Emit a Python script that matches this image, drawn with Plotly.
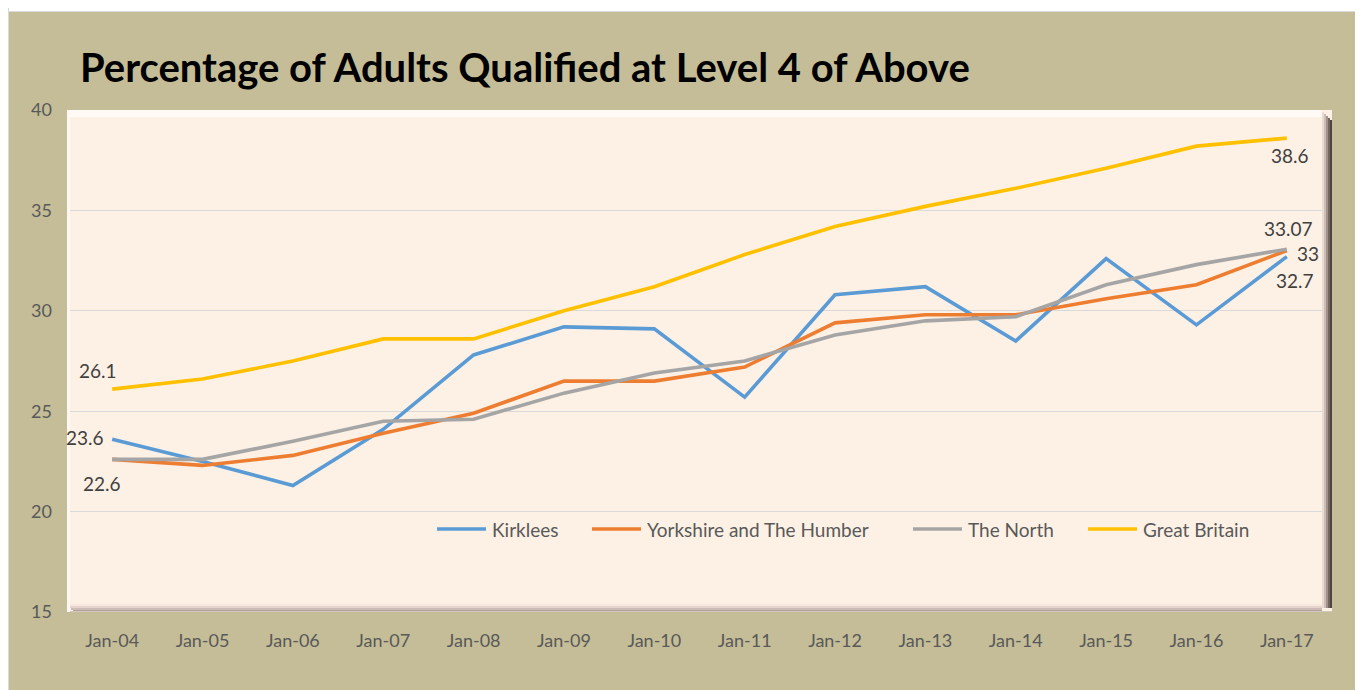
import plotly.graph_objects as go

# ---------------- data ----------------
categories = ["Jan-04", "Jan-05", "Jan-06", "Jan-07", "Jan-08", "Jan-09", "Jan-10",
              "Jan-11", "Jan-12", "Jan-13", "Jan-14", "Jan-15", "Jan-16", "Jan-17"]
kirklees = [23.6, 22.5, 21.3, 24.1, 27.8, 29.2, 29.1, 25.7, 30.8, 31.2, 28.5, 32.6, 29.3, 32.7]
yorkshire = [22.6, 22.3, 22.8, 23.9, 24.9, 26.5, 26.5, 27.2, 29.4, 29.8, 29.8, 30.6, 31.3, 33.0]
the_north = [22.6, 22.6, 23.5, 24.5, 24.6, 25.9, 26.9, 27.5, 28.8, 29.5, 29.7, 31.3, 32.3, 33.07]
great_britain = [26.1, 26.6, 27.5, 28.6, 28.6, 30.0, 31.2, 32.8, 34.2, 35.2, 36.1, 37.1, 38.2, 38.6]
y_ticks = [15, 20, 25, 30, 35, 40]

series_names = ["Kirklees", "Yorkshire and The Humber", "The North", "Great Britain"]
series_values = [kirklees, yorkshire, the_north, great_britain]
series_colors = ["#5B9BD5", "#ED7D31", "#A5A5A5", "#FFC000"]

# ---------------- layout geometry (page pixels) ----------------
O = 8                         # default body margin of the page
PAGE_W, PAGE_H = 1363, 690
W, H = PAGE_W - O, PAGE_H - O
L, R, T, B = 67, 1332, 110, 612   # plot area in page pixels


def px(x):
    return (x - L) / (R - L)


def py(y):
    return (B - y) / (B - T)


TAN = "#C4BD97"
PEACH = "#FDF1E5"
FONT = "Lato"

fig = go.Figure()
for name, vals, color in zip(series_names, series_values, series_colors):
    fig.add_trace(go.Scatter(
        x=categories, y=vals, name=name, mode="lines",
        line=dict(color=color, width=3.6), showlegend=False,
    ))

# data labels (first / last points)
labels = [
    (great_britain, 0, -14, 19),
    (great_britain, 13, 3, -17),
    (kirklees, 0, -27, 2),
    (kirklees, 13, 8, -24),
    (yorkshire, 0, -10, -24),
    (yorkshire, 13, 21, -3),
    (the_north, 13, 2, 21),
]
annotations = []
for vals, i, dx, dy in labels:
    annotations.append(dict(
        x=categories[i], y=vals[i], xref="x", yref="y",
        text=f"{vals[i]:g}", showarrow=False, xshift=dx, yshift=dy,
        font=dict(family=FONT, size=19, color="#404040"),
    ))

shapes = []

# legend drawn inside the plot area
legend_starts = [437, 592, 913, 1088]
legend_y = 529
for name, color, x0 in zip(series_names, series_colors, legend_starts):
    shapes.append(dict(type="line", xref="paper", yref="paper",
                       x0=px(x0), x1=px(x0 + 49), y0=py(legend_y), y1=py(legend_y),
                       line=dict(color=color, width=3.6), layer="above"))
    annotations.append(dict(
        x=px(x0 + 53), y=py(legend_y), xref="paper", yref="paper",
        text=name, showarrow=False, xanchor="left", yanchor="middle",
        font=dict(family=FONT, size=19, color="#595959"),
    ))

# outer white margins around the tan chart area
shapes.append(dict(type="rect", xref="paper", yref="paper", x0=px(O), x1=px(PAGE_W), y0=py(O), y1=py(11),
                   fillcolor="white", line=dict(width=0), layer="below"))
shapes.append(dict(type="rect", xref="paper", yref="paper", x0=px(O), x1=px(9), y0=py(O), y1=py(PAGE_H),
                   fillcolor="#D9D9D9", line=dict(width=0), layer="below"))
shapes.append(dict(type="rect", xref="paper", yref="paper", x0=px(1357), x1=px(PAGE_W), y0=py(O), y1=py(PAGE_H),
                   fillcolor="white", line=dict(width=0), layer="below"))
shapes.append(dict(type="line", xref="paper", yref="paper", x0=px(9), x1=px(1357), y0=py(11.5), y1=py(11.5),
                   line=dict(color="#DADADA", width=1), layer="below"))
shapes.append(dict(type="line", xref="paper", yref="paper", x0=px(1357.5), x1=px(1357.5), y0=py(11), y1=py(PAGE_H),
                   line=dict(color="#DADADA", width=1), layer="below"))

# bevel of the plot area
bevel_right = ["#EBDCD2", "#CDBDB5", "#A2928C", "#74655F", "#4F433F"]
for k, c in enumerate(bevel_right):
    shapes.append(dict(type="rect", xref="paper", yref="paper",
                       x0=px(R - 10 + 2 * k), x1=px(R - 8 + 2 * k), y0=py(B - 4), y1=py(T + 2 + 2 * k),
                       fillcolor=c, line=dict(width=0), layer="above"))
bevel_bottom = ["#F6E8DF", "#E6D5CD", "#CDBCB5", "#B1A19B"]
for k, c in enumerate(bevel_bottom):
    shapes.append(dict(type="rect", xref="paper", yref="paper",
                       x0=px(L + 2 * k), x1=px(R - 10), y0=py(B - 8 + 2 * k + 2), y1=py(B - 8 + 2 * k),
                       fillcolor=c, line=dict(width=0), layer="above"))
shapes.append(dict(type="rect", xref="paper", yref="paper", x0=px(L), x1=px(R), y0=py(B), y1=py(B - 1),
                   fillcolor="#D3C7C1", line=dict(width=0), layer="above"))
# top highlight
shapes.append(dict(type="rect", xref="paper", yref="paper", x0=px(L + 2), x1=px(R - 10), y0=py(T + 7), y1=py(T),
                   fillcolor="#FFFAF6", line=dict(width=0), layer="above"))
shapes.append(dict(type="rect", xref="paper", yref="paper", x0=px(L), x1=px(L + 3), y0=py(B), y1=py(T),
                   fillcolor="#FFF7F1", line=dict(width=0), layer="above"))

fig.update_layout(
    width=W, height=H,
    margin=dict(l=L - O, r=PAGE_W - R, t=T - O, b=PAGE_H - B, pad=0),
    paper_bgcolor=TAN,
    plot_bgcolor=PEACH,
    title=dict(
        text="<b>Percentage of Adults Qualified at Level 4 of Above</b>",
        x=(80 - O) / W, y=1 - (68 - O) / H, xref="container", yref="container",
        xanchor="left", yanchor="middle",
        font=dict(family=FONT, size=40, color="#000000"),
    ),
    xaxis=dict(
        type="category", range=[-0.5, 13.5], showgrid=False, showline=False,
        ticks="", tickfont=dict(family=FONT, size=18, color="#595959"),
        ticklabelstandoff=16, zeroline=False,
    ),
    yaxis=dict(
        range=[15, 40], tickvals=y_ticks, showgrid=True, gridcolor="#D9D9D9", gridwidth=1,
        showline=False, ticks="", zeroline=False,
        tickfont=dict(family=FONT, size=18, color="#595959"),
        ticklabelstandoff=14,
    ),
    annotations=annotations,
    shapes=shapes,
    showlegend=False,
)

fig.write_html("out.html")
